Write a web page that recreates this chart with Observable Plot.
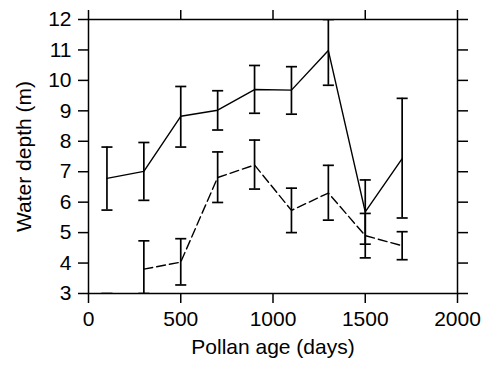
<!DOCTYPE html>
<html>
<head>
<meta charset="utf-8">
<script src="https://cdn.jsdelivr.net/npm/d3@7"></script>
<script src="https://cdn.jsdelivr.net/npm/@observablehq/plot@0.6"></script>
<style>
  html, body { margin: 0; padding: 0; background: #fff; }
  svg { display: block; }
</style>
</head>
<body>
<div id="chart"></div>
<script>
const ages = [100, 300, 500, 700, 900, 1100, 1300, 1500, 1700];
const solidMean = [6.78, 7.01, 8.82, 9.02, 9.70, 9.68, 10.98, 5.68, 7.43];
const solidHi   = [7.81, 7.96, 9.80, 9.66, 10.49, 10.45, 12.00, 6.73, 9.41];
const solidLo   = [5.74, 6.06, 7.81, 8.37, 8.92, 8.89, 9.84, 4.62, 5.48];
const dashedMean = [null, 3.80, 4.03, 6.81, 7.22, 5.73, 6.30, 4.90, 4.57];
const dashedHi   = [3.00, 4.73, 4.80, 7.65, 8.04, 6.46, 7.21, 5.63, 5.03];
const dashedLo   = [null, 3.00, 3.28, 5.99, 6.43, 5.00, 5.41, 4.17, 4.11];
const xTicks = [0, 500, 1000, 1500, 2000];
const yTicks = [3, 4, 5, 6, 7, 8, 9, 10, 11, 12];
const xLabel = "Pollan age (days)";
const yLabel = "Water depth (m)";

const solid = ages.map((x, i) => ({x, mean: solidMean[i], hi: solidHi[i], lo: solidLo[i]}));
const dashed = ages.map((x, i) => ({x, mean: dashedMean[i], hi: dashedHi[i], lo: dashedLo[i]}));

const capHalf = 30; // cap half-width in data units of x

function errorMarks(rows) {
  const bars = rows.filter(d => d.hi != null && d.lo != null);
  const his = rows.filter(d => d.hi != null);
  const los = rows.filter(d => d.lo != null);
  return [
    Plot.ruleX(bars, {x: "x", y1: "lo", y2: "hi", stroke: "black", strokeWidth: 1.7, clip: true}),
    Plot.link(his, {x1: d => d.x - capHalf, x2: d => d.x + capHalf, y1: "hi", y2: "hi", stroke: "black", strokeWidth: 1.7, clip: true}),
    Plot.link(los, {x1: d => d.x - capHalf, x2: d => d.x + capHalf, y1: "lo", y2: "lo", stroke: "black", strokeWidth: 1.7, clip: true})
  ];
}

const fmt = d3.format("d");
const FS = 21;

const chart = Plot.plot({
  width: 483,
  height: 367,
  marginLeft: 88,
  marginRight: 26,
  marginTop: 19,
  marginBottom: 74,
  style: {fontFamily: "'Liberation Sans', Arial, sans-serif", fontSize: FS + "px", color: "black", background: "white"},
  x: {domain: [0, 2000]},
  y: {domain: [3, 12]},
  marks: [
    Plot.axisX({anchor: "bottom", ticks: xTicks, tickFormat: fmt, tickSize: 10, tickPadding: 8, strokeWidth: 1.5, fontSize: FS, label: null}),
    Plot.axisX({anchor: "top", ticks: xTicks, tickSize: 10, tickFormat: () => "", strokeWidth: 1.5, label: null}),
    Plot.axisY({anchor: "left", ticks: yTicks, tickFormat: fmt, tickSize: 10, tickPadding: 7, strokeWidth: 1.5, fontSize: FS, label: null}),
    Plot.axisY({anchor: "right", ticks: yTicks, tickSize: 10, tickFormat: () => "", strokeWidth: 1.5, label: null}),
    Plot.frame({stroke: "black", strokeWidth: 1.5}),
    ...errorMarks(solid),
    ...errorMarks(dashed),
    Plot.line(solid, {x: "x", y: "mean", stroke: "black", strokeWidth: 1.4, clip: true}),
    Plot.line(dashed, {x: "x", y: "mean", stroke: "black", strokeWidth: 1.4, strokeDasharray: "9,4", clip: true}),
    Plot.text([xLabel], {frameAnchor: "bottom", dy: 60, text: d => d, fontSize: FS, fill: "black"}),
    Plot.text([yLabel], {frameAnchor: "left", dx: -64, rotate: -90, textAnchor: "middle", text: d => d, fontSize: FS, fill: "black"})
  ]
});
document.getElementById("chart").appendChild(chart);
</script>
</body>
</html>
